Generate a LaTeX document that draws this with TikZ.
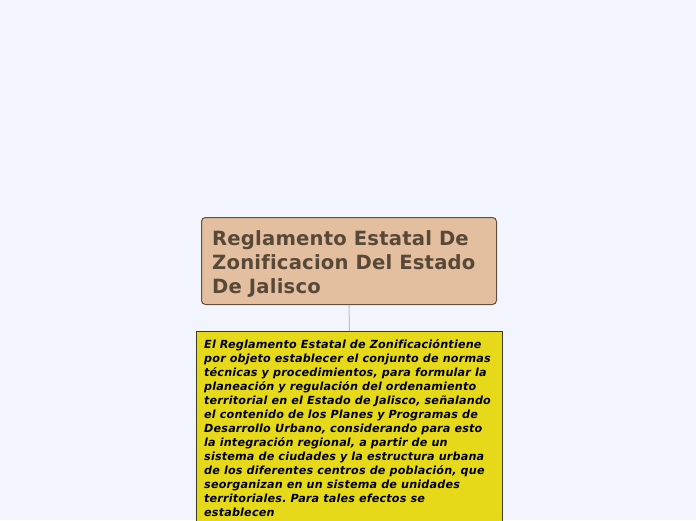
\documentclass[tikz,border=0pt]{standalone}
\usepackage{fontspec}
\setmainfont[Ligatures={NoCommon}]{DejaVu Sans}
\frenchspacing
\definecolor{bgc}{HTML}{F3F5FE}
\definecolor{titlefill}{HTML}{E3BFA0}
\definecolor{titledraw}{HTML}{5E5243}
\definecolor{titletext}{HTML}{574837}
\definecolor{yelfill}{HTML}{E6D91A}
\definecolor{yeldraw}{HTML}{3A3A1E}
\definecolor{linkc}{HTML}{BDBFC6}
\begin{document}
\begin{tikzpicture}[x=1pt,y=-1pt,
  titlebox/.style={draw=titledraw,fill=titlefill,line width=1pt,rounded corners=4pt,minimum width=295pt,minimum height=87pt,inner sep=0pt,anchor=north west},
  yelbox/.style={draw=yeldraw,fill=yelfill,line width=1pt,minimum width=306pt,minimum height=200pt,inner sep=0pt,anchor=north west},
  titletxt/.style={anchor=north west,inner sep=0pt,align=left,text=titletext,font=\fontsize{19.6}{24}\selectfont\bfseries\addfontfeature{LetterSpace=1}},
  yeltxt/.style={anchor=north west,inner sep=0pt,align=left,text=black,font=\fontsize{11.2}{14}\selectfont\bfseries\itshape\addfontfeature{LetterSpace=1.5}},
  link/.style={draw=linkc,line width=1pt}]
\useasboundingbox (0,0) rectangle (696,520);
\fill[bgc] (0,0) rectangle (696,520);
\clip (0,0) rectangle (696,520);
\node[titlebox] (title) at (201,217) {};
\node[yelbox] (desc) at (196,331) {};
\draw[link] (title.south) -- (desc.north);
\node[titletxt] (titletext) at (212,230.5) {Reglamento Estatal De\\Zonificacion Del Estado\\De Jalisco};
\node[yeltxt] (desctext) at (204,339) {El Reglamento Estatal de Zonificacióntiene\\por objeto establecer el conjunto de normas\\técnicas y procedimientos, para formular la\\planeación y regulación del ordenamiento\\territorial en el Estado de Jalisco, señalando\\el contenido de los Planes y Programas de\\Desarrollo Urbano, considerando para esto\\la integración regional, a partir de un\\sistema de ciudades y la estructura urbana\\de los diferentes centros de población, que\\seorganizan en un sistema de unidades\\territoriales. Para tales efectos se\\establecen};
\end{tikzpicture}
\end{document}
